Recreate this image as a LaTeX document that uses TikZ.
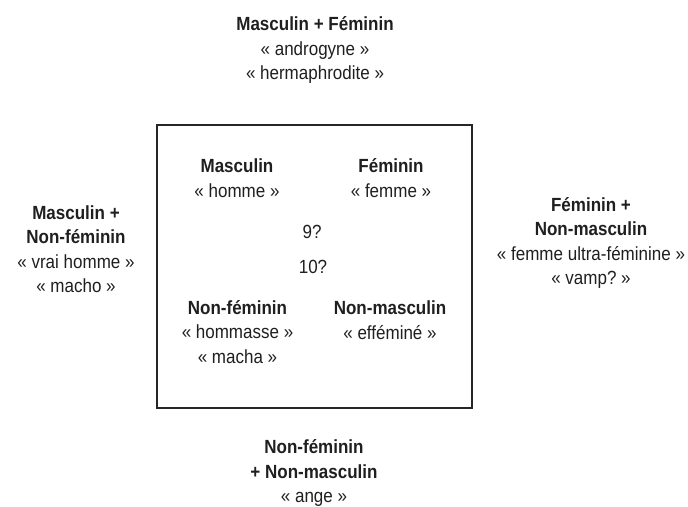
\documentclass[tikz,border=0pt]{standalone}
\usepackage{fontspec}
\setmainfont{Liberation Sans}
\frenchspacing
\begin{document}
\begin{tikzpicture}[x=1pt,y=-1pt,
  lbl/.style={align=center,inner sep=0pt,text=black!88,yscale=1.12,transform shape,font=\fontsize{17}{21.8}\selectfont},
  frame/.style={draw=black!85,line width=1.5pt}]
\useasboundingbox (0,0) rectangle (688,506);
\node[frame,minimum width=315pt,minimum height=283pt,inner sep=0pt] (box) at (314.5,266.5) {};
\node[lbl] (top) at (315,50) {\textbf{Masculin + Féminin}\\« androgyne »\\« hermaphrodite »};
\node[lbl] (left) at (76,249) {\textbf{Masculin +}\\\textbf{Non-féminin}\\« vrai homme »\\« macho »};
\node[lbl] (right) at (591,243) {\textbf{Féminin +}\\\textbf{Non-masculin}\\« femme ultra-féminine »\\« vamp? »};
\node[lbl] (bottom) at (314,473) {\textbf{Non-féminin}\\\textbf{+ Non-masculin}\\« ange »};
\node[lbl] (masc) at (237,178) {\textbf{Masculin}\\« homme »};
\node[lbl] (fem) at (391,178) {\textbf{Féminin}\\« femme »};
\node[lbl] (nine) at (312,232) {9?};
\node[lbl] (ten) at (313,267) {10?};
\node[lbl] (nonfem) at (237.5,332) {\textbf{Non-féminin}\\« hommasse »\\« macha »};
\node[lbl] (nonmasc) at (390,320) {\textbf{Non-masculin}\\« efféminé »};
\end{tikzpicture}
\end{document}
